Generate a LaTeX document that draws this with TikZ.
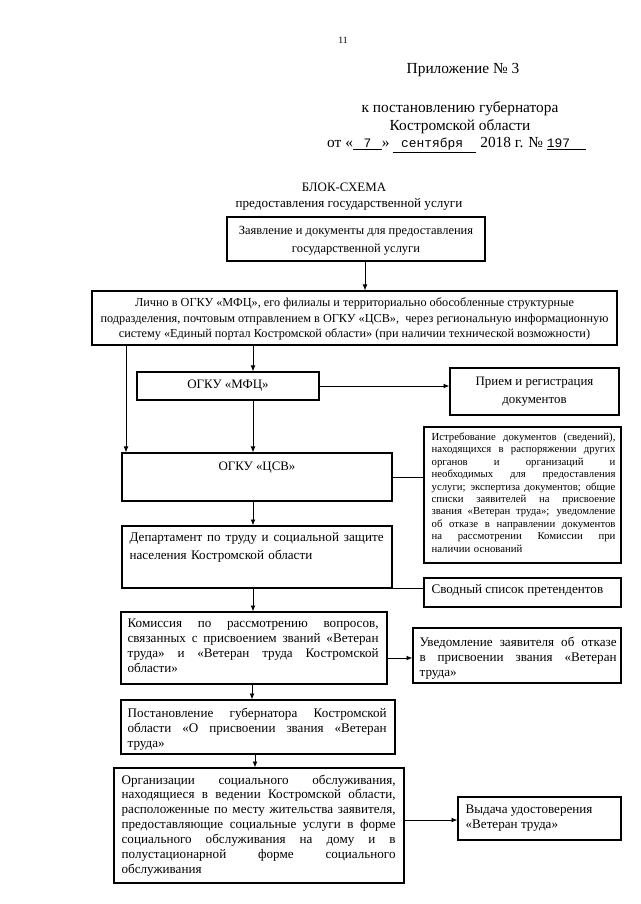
\documentclass[tikz,border=0pt]{standalone}
\usepackage{fontspec}
\setmainfont{Liberation Serif}
\setmonofont{Liberation Mono}
\usetikzlibrary{arrows.meta,fit}
\newdimen\px \px=0.93pt
\newdimen\jw
\newcommand{\jl}[1]{\leavevmode\hbox to \jw{\spaceskip=0.25em plus 1fil minus 0.05em\relax #1}\\}
\begin{document}
\begin{tikzpicture}[x=0.93pt,y=-0.93pt,
  box/.style={draw, line width=1.1pt, inner sep=0pt},
  arr/.style={line width=0.8pt, -{Latex[length=5.5pt,width=4.5pt]}},
  ln/.style={line width=0.8pt},
  tx/.style={inner sep=0pt, font=\fontsize{12.2}{14}\selectfont},
  hdr/.style={inner sep=0pt, font=\fontsize{14.3}{16}\selectfont},
]
\useasboundingbox (0,0) rectangle (640,904);

% header
\node[inner sep=0pt, font=\fontsize{9}{10}\selectfont] (pg) at (343,40) {11};
\node[hdr] (pril) at (463,70) {Приложение № 3};
\node[hdr] (kpost) at (460,109) {к постановлению губернатора};
\node[hdr] (kostr) at (460,127) {Костромской области};
\node[hdr, anchor=west] (date) at (327,145) {от «\underline{\makebox[29\px]{\fontsize{12}{14}\ttfamily 7}}» \underline{\makebox[83\px][l]{\fontsize{12}{14}\ttfamily\ сентября}}\ 2018 г. № \underline{\makebox[39\px][l]{\fontsize{12}{14}\ttfamily 197}}};
\node[inner sep=0pt, font=\fontsize{12}{14}\selectfont] (bs) at (344,187) {БЛОК-СХЕМА};
\node[inner sep=0pt, font=\fontsize{12.2}{14}\selectfont] (bs2) at (349,204) {предоставления государственной услуги};

% boxes
\node[box, fit={(227,217) (485,261)}] (zayav) {};
\node[box, fit={(92,291) (617,345)}] (lichno) {};
\node[box, fit={(137,372) (319,400)}] (mfc) {};
\node[box, fit={(450,368) (619,415)}] (priem) {};
\node[box, fit={(122,453) (392,501)}] (csv) {};
\node[box, fit={(424,427) (621,563)}] (istr) {};
\node[box, fit={(122,526) (392,588)}] (dep) {};
\node[box, fit={(424,578) (621,607)}] (svod) {};
\node[box, fit={(121,612) (387,684)}] (kom) {};
\node[box, fit={(413,628) (621,683)}] (uved) {};
\node[box, fit={(121,700) (395,754)}] (post) {};
\node[box, fit={(114,768) (404,883)}] (org) {};
\node[box, fit={(458,797) (621,840)}] (vyd) {};

% texts
\node[inner sep=0pt, align=center, font=\fontsize{11.6}{16.5}\selectfont] (tzayav) at ([yshift=-2\px]zayav.center) {Заявление и документы для предоставления\\государственной услуги};
\node[inner sep=0pt, align=center, font=\fontsize{11.4}{14.4}\selectfont] (tlichno) at ([yshift=-1\px]lichno.center) {Лично в ОГКУ «МФЦ», его филиалы и территориально обособленные структурные\\подразделения, почтовым отправлением в ОГКУ «ЦСВ»,\ \ через региональную информационную\\систему «Единый портал Костромской области» (при наличии технической возможности)};
\node[tx, font=\fontsize{12}{14}\selectfont] (tmfc) at (mfc.center) {ОГКУ «МФЦ»};
\node[tx, align=center, font=\fontsize{12}{16.5}\selectfont] (tpriem) at ([yshift=0\px]priem.center) {Прием и регистрация\\документов};
\node[tx, anchor=north, font=\fontsize{12}{14}\selectfont] (tcsv) at ([yshift=-9\px]csv.north) {ОГКУ «ЦСВ»};
\node[tx, anchor=north west, text width=171pt, align=left, font=\fontsize{10}{11.55}\selectfont] (tistr) at ([xshift=8\px,yshift=-6\px]istr.north west) {\jw=171pt
\jl{Истребование документов (сведений),}
\jl{находящихся в распоряжении других}
\jl{органов и организаций и}
\jl{необходимых для предоставления}
\jl{услуги; экспертиза документов; общие}
\jl{списки заявителей на присвоение}
\jl{звания «Ветеран труда»; уведомление}
\jl{об отказе в направлении документов}
\jl{на рассмотрении Комиссии при}
наличии оснований};
\node[tx, anchor=north west, text width=236.2pt, align=left, font=\fontsize{12.2}{16.5}\selectfont] (tdep) at ([xshift=8\px,yshift=-7\px]dep.north west) {\jw=236.2pt
\jl{Департамент по труду и социальной защите}
населения Костромской области};
\node[tx, anchor=north west] (tsvod) at ([xshift=8\px,yshift=-7\px]svod.north west) {Сводный список претендентов};
\node[tx, anchor=north west, text width=233.4pt, align=left] (tkom) at ([xshift=7\px,yshift=-7\px]kom.north west) {\jw=233.4pt
\jl{Комиссия по рассмотрению вопросов,}
\jl{связанных с присвоением званий «Ветеран}
\jl{труда» и «Ветеран труда Костромской}
области»};
\node[tx, anchor=north west, text width=183.2pt, align=left] (tuved) at ([xshift=7\px,yshift=-9\px]uved.north west) {\jw=183.2pt
\jl{Уведомление заявителя об отказе}
\jl{в присвоении звания «Ветеран}
труда»};
\node[tx, anchor=north west, text width=240.9pt, align=left] (tpost) at ([xshift=7\px,yshift=-8\px]post.north west) {\jw=240.9pt
\jl{Постановление губернатора Костромской}
\jl{области «О присвоении звания «Ветеран}
труда»};
\node[tx, anchor=north west, text width=254.8pt, align=left, font=\fontsize{12.2}{13.8}\selectfont] (torg) at ([xshift=8\px,yshift=-7\px]org.north west) {\jw=254.8pt
\jl{Организации социального обслуживания,}
\jl{находящиеся в ведении Костромской области,}
\jl{расположенные по месту жительства заявителя,}
\jl{предоставляющие социальные услуги в форме}
\jl{социального обслуживания на дому и в}
\jl{полустационарной форме социального}
обслуживания};
\node[tx, anchor=north west, align=left] (tvyd) at ([xshift=8\px,yshift=-8\px]vyd.north west) {Выдача удостоверения\\«Ветеран труда»};

% helper coordinates
\coordinate (x365) at (365,0);
\coordinate (xc) at (253,0);
\coordinate (xl) at (126,0);
\coordinate (xk) at (252,0);
\coordinate (xp) at (255,0);
\coordinate (y658) at (0,658);
\coordinate (y820) at (0,820);

% connectors
\draw[arr] (zayav.south -| x365) -- (lichno.north -| x365);
\draw[arr] (lichno.south -| xc) -- (mfc.north -| xc);
\draw[arr] (lichno.south -| xl) -- (csv.north -| xl);
\draw[arr] (mfc.south -| xc) -- (csv.north -| xc);
\draw[arr] (mfc.east) -- (mfc.east -| priem.west);
\draw[ln] (csv.east) -- (csv.east -| istr.west);
\draw[arr] (csv.south -| xc) -- (dep.north -| xc);
\draw[ln] (dep.south east) -- (dep.south east -| svod.west);
\draw[arr] (dep.south -| xc) -- (kom.north -| xc);
\draw[arr] (kom.east |- y658) -- (uved.west |- y658);
\draw[arr] (kom.south -| xk) -- (post.north -| xk);
\draw[arr] (post.south -| xp) -- (org.north -| xp);
\draw[arr] (org.east |- y820) -- (vyd.west |- y820);
\end{tikzpicture}
\end{document}
